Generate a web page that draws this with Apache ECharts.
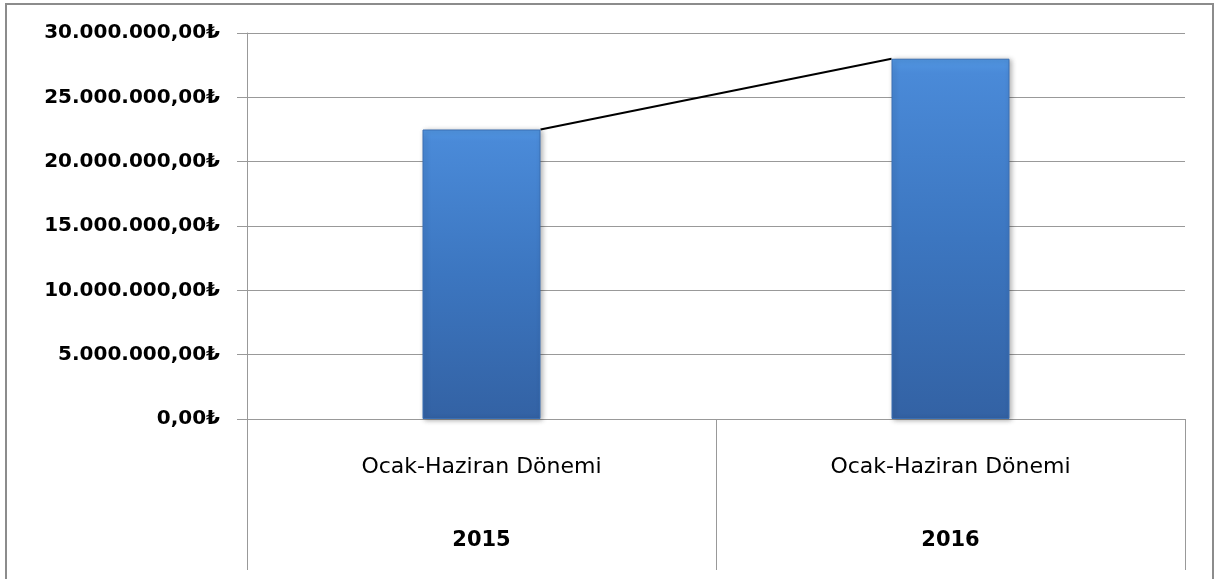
<!DOCTYPE html>
<html>
<head>
<meta charset="utf-8">
<script src="https://cdn.jsdelivr.net/npm/echarts@6/dist/echarts.min.js"></script>
<style>
  html, body { margin: 0; padding: 0; background: #fff; overflow: hidden; }
  #chart { position: absolute; left: 0; top: 0; width: 1215px; height: 579px; }
  #frame {
    position: absolute; left: 5px; top: 3px; width: 1209px; height: 700px;
    box-sizing: border-box; border: 2px solid #8c8c8c; pointer-events: none;
  }
</style>
</head>
<body>
<div id="chart"></div>
<div id="frame"></div>
<script>
// values
const years = ['2015', '2016']
const periods = ['Ocak-Haziran Dönemi', 'Ocak-Haziran Dönemi']
const amounts = [22500000, 28000000]

const BAR_W = 118

function formatTL(v) {
  const parts = v.toFixed(2).split('.')
  const intPart = parts[0].replace(/\B(?=(\d{3})+(?!\d))/g, '.')
  return intPart + ',' + parts[1] + '₺'
}

// excel style series lines: top-right corner of one bar to top-left of the next
const seriesLines = amounts.slice(0, -1).map((v, i) => [i, v, amounts[i + 1]])

const chart = echarts.init(document.getElementById('chart'))

const option = {
  backgroundColor: '#fff',
  animation: false,
  grid: {
    left: 247,
    right: 30,
    top: 33,
    bottom: 160
  },
  xAxis: [
    {
      type: 'category',
      data: years,
      position: 'bottom',
      axisLine: { show: true, lineStyle: { color: '#999', width: 1 } },
      axisTick: { show: true, length: 151, interval: 0, lineStyle: { color: '#999' } },
      axisLabel: {
        interval: 0,
        margin: 37,
        color: '#000',
        fontFamily: 'DejaVu Sans',
        fontSize: 22,
        formatter: (v, i) => periods[i]
      },
      splitLine: { show: false }
    },
    {
      type: 'category',
      data: years,
      position: 'bottom',
      axisLine: { show: false },
      axisTick: { show: false },
      axisLabel: {
        interval: 0,
        margin: 111,
        color: '#000',
        fontFamily: 'DejaVu Sans',
        fontWeight: 'bold',
        fontSize: 21
      },
      splitLine: { show: false }
    }
  ],
  yAxis: {
    type: 'value',
    min: 0,
    max: 30000000,
    interval: 5000000,
    axisLine: { show: true, lineStyle: { color: '#999' } },
    axisTick: { show: true, length: 10, lineStyle: { color: '#999' } },
    axisLabel: {
      margin: 27,
      color: '#000',
      fontFamily: 'DejaVu Sans',
      fontWeight: 'bold',
      fontSize: 20,
      formatter: formatTL
    },
    splitLine: { lineStyle: { color: '#999', width: 1 } }
  },
  series: [
    {
      type: 'bar',
      data: amounts,
      barWidth: BAR_W,
      itemStyle: {
        color: new echarts.graphic.LinearGradient(0, 0, 0, 1, [
          { offset: 0, color: '#5196e2' },
          { offset: 0.04, color: '#4a8ad8' },
          { offset: 0.5, color: '#3c76c0' },
          { offset: 1, color: '#3362a4' }
        ]),
        borderColor: '#3a6fb3',
        borderWidth: 1,
        shadowColor: 'rgba(0, 0, 0, 0.3)',
        shadowBlur: 5,
        shadowOffsetX: 2,
        shadowOffsetY: 1
      }
    },
    {
      type: 'custom',
      data: seriesLines,
      renderItem: function (params, api) {
        const p1 = api.coord([api.value(0), api.value(1)])
        const p2 = api.coord([api.value(0) + 1, api.value(2)])
        return {
          type: 'line',
          shape: { x1: p1[0] + BAR_W / 2, y1: p1[1], x2: p2[0] - BAR_W / 2, y2: p2[1] },
          style: { stroke: '#000', lineWidth: 2 }
        }
      }
    }
  ]
}

chart.setOption(option)
</script>
</body>
</html>
